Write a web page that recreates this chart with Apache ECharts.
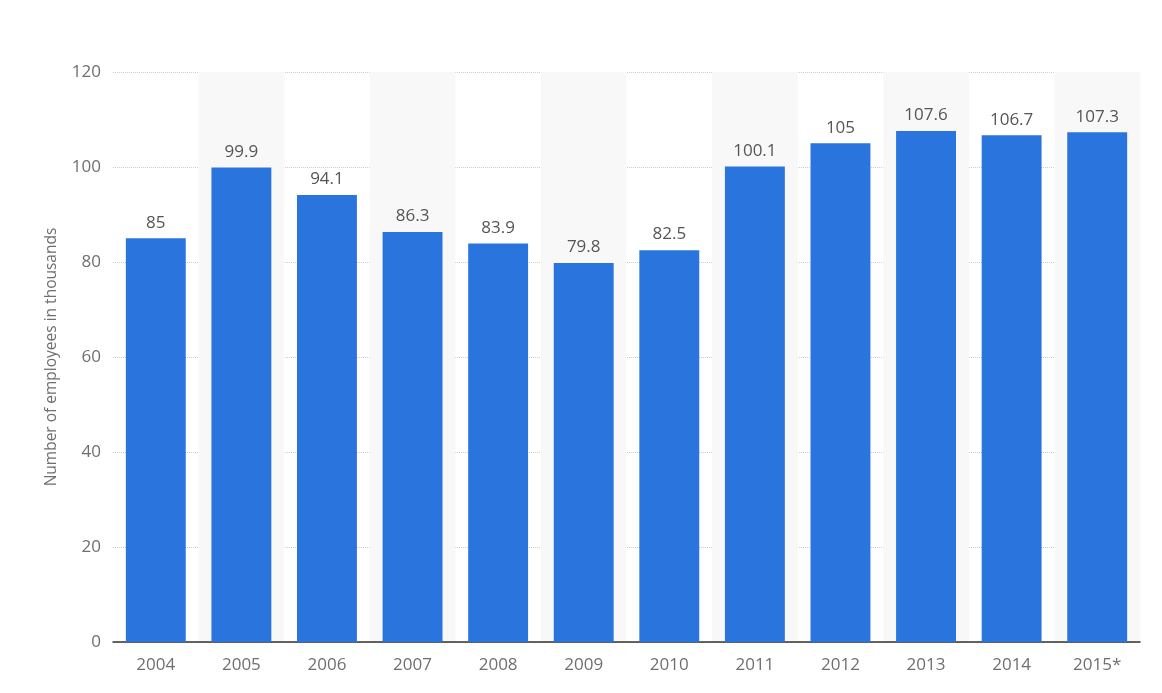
<!DOCTYPE html>
<html>
<head>
<meta charset="utf-8">
<script src="https://cdn.jsdelivr.net/npm/echarts@6/dist/echarts.min.js"></script>
<style>
  html, body { margin: 0; padding: 0; background: #fff; }
  #main { width: 1162px; height: 693px; }
</style>
</head>
<body>
<div id="main"></div>
<script>
// data
const years = ['2004', '2005', '2006', '2007', '2008', '2009', '2010', '2011', '2012', '2013', '2014', '2015*']
const employees = [85, 99.9, 94.1, 86.3, 83.9, 79.8, 82.5, 100.1, 105, 107.6, 106.7, 107.3]
const yTicks = [0, 20, 40, 60, 80, 100, 120]

let myChart = echarts.init(document.getElementById('main'))

let option = {
  animation: false,
  textStyle: { fontFamily: 'Open Sans, DejaVu Sans, sans-serif' },
  grid: {
    left: 113,
    right: 22,
    top: 72,
    bottom: 51
  },
  xAxis: {
    type: 'category',
    data: years,
    axisLine: { lineStyle: { color: '#333', width: 1.5 } },
    axisTick: { show: false },
    axisLabel: { color: '#6f6f6f', fontSize: 17, margin: 15 },
    splitArea: {
      show: true,
      areaStyle: { color: ['rgba(255,255,255,0)', '#f8f8f8'] }
    }
  },
  yAxis: {
    type: 'value',
    min: yTicks[0],
    max: yTicks[yTicks.length - 1],
    interval: 20,
    name: 'Number of employees in thousands',
    nameLocation: 'middle',
    nameGap: 53,
    nameTextStyle: { color: '#6f6f6f', fontSize: 15.5 },
    axisLine: { show: false },
    axisTick: { show: false },
    axisLabel: { color: '#6f6f6f', fontSize: 17, margin: 12 },
    splitLine: { lineStyle: { color: '#ccc', type: 'dotted' } }
  },
  series: [{
    type: 'bar',
    data: employees,
    barWidth: '70%',
    itemStyle: { color: '#2a75dd' },
    label: {
      show: true,
      position: 'top',
      color: '#555',
      fontSize: 17,
      distance: 7
    }
  }]
}

myChart.setOption(option)
</script>
</body>
</html>
